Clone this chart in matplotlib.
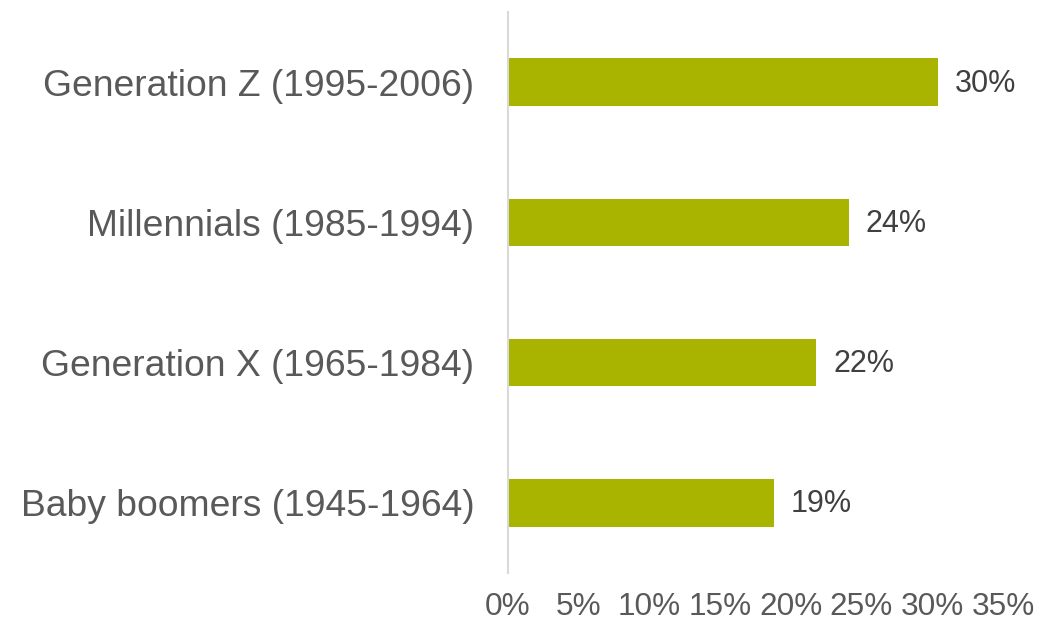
import matplotlib
matplotlib.use("Agg")
import matplotlib.pyplot as plt
from matplotlib.ticker import FuncFormatter

categories = ["Generation Z (1995-2006)", "Millennials (1985-1994)",
              "Generation X (1965-1984)", "Baby boomers (1945-1964)"]
values = [30.4, 24.1, 21.8, 18.8]
xticks = [0, 5, 10, 15, 20, 25, 30, 35]

plt.rcParams['font.family'] = ['Liberation Sans', 'DejaVu Sans']

fig = plt.figure(figsize=(10.53, 6.27), dpi=100)
ax = fig.add_axes([507.5/1053, 1-573/627, (1003-507.5)/1053, (573-12)/627])

ypos = list(range(len(categories)))
ax.barh(ypos, values, height=0.34, color='#A9B400')
ax.set_ylim(len(categories)-0.5, -0.5)
ax.set_xlim(0, 35)
ax.set_yticks(ypos)
ax.set_yticklabels(categories, fontsize=26.85, color='#595959')
ax.set_xticks(xticks)
ax.xaxis.set_major_formatter(FuncFormatter(lambda v, p: f"{v:.0f}%"))
ax.tick_params(axis='x', labelsize=22.7, colors='#595959', length=0, pad=14)
ax.tick_params(axis='y', length=0, pad=24)

for s in ['top', 'right', 'bottom']:
    ax.spines[s].set_visible(False)
ax.spines['left'].set_color('#D9D9D9')
ax.spines['left'].set_linewidth(1.5)

for y, v in zip(ypos, values):
    ax.text(v + 1.2, y + 0.01, f"{round(v):.0f}%", va='center', ha='left',
            fontsize=22, color='#404040')

fig.savefig("out.png", dpi=100)
